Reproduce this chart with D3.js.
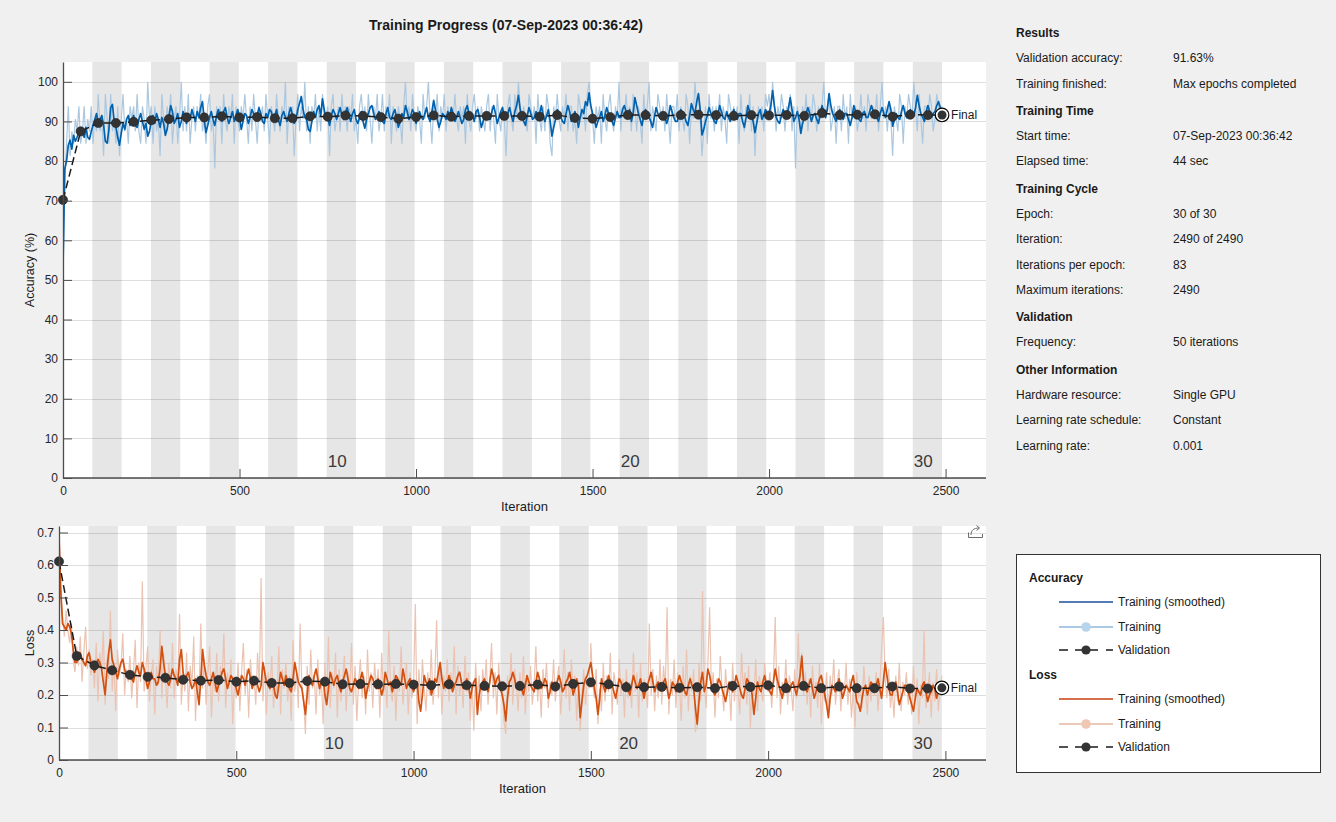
<!DOCTYPE html>
<html>
<head>
<meta charset="utf-8">
<script src="https://cdn.jsdelivr.net/npm/d3@7"></script>
<style>
  body { margin: 0; background: #f0f0f0; }
  svg { display: block; font-family: Arial, "Liberation Sans", Helvetica, sans-serif; }
</style>
</head>
<body>
<svg id="chart" width="1336" height="822"></svg>
<script>
// ---- chart data ----
var maxIter = 2490;
var itersPerEpoch = 83;
var numEpochs = 30;
var epochLabels = [10, 20, 30];
var xTicks = [0, 500, 1000, 1500, 2000, 2500];
var accTicks = [0, 10, 20, 30, 40, 50, 60, 70, 80, 90, 100];
var lossTicks = [0, 0.1, 0.2, 0.3, 0.4, 0.5, 0.6, 0.7];
var lossTickLabels = ["0", "0.1", "0.2", "0.3", "0.4", "0.5", "0.6", "0.7"];

// validation every 50 iterations + final
var valIters = [0, 50, 100, 150, 200, 250, 300, 350, 400, 450,
  500, 550, 600, 650, 700, 750, 800, 850, 900, 950,
  1000, 1050, 1100, 1150, 1200, 1250, 1300, 1350, 1400, 1450,
  1500, 1550, 1600, 1650, 1700, 1750, 1800, 1850, 1900, 1950,
  2000, 2050, 2100, 2150, 2200, 2250, 2300, 2350, 2400, 2450, 2490];
var accValidation = [70.2, 87.5, 89.6, 89.6, 89.9, 90.3, 90.6, 91.0, 91.0, 91.3,
  91.0, 91.1, 90.8, 90.8, 91.3, 91.2, 91.5, 91.4, 91.1, 90.7,
  91.1, 91.5, 91.2, 91.4, 91.4, 91.4, 91.4, 91.2, 91.6, 90.9,
  90.7, 91.1, 91.6, 91.6, 91.4, 91.6, 91.7, 91.6, 91.4, 91.6,
  91.5, 91.6, 91.4, 92.1, 91.6, 91.7, 91.8, 91.2, 91.7, 91.6, 91.63];
var lossValidation = [0.611, 0.320, 0.291, 0.276, 0.262, 0.256, 0.253, 0.247, 0.244, 0.246,
  0.241, 0.244, 0.237, 0.237, 0.243, 0.241, 0.233, 0.234, 0.233, 0.234,
  0.232, 0.230, 0.233, 0.230, 0.228, 0.227, 0.228, 0.232, 0.226, 0.234,
  0.239, 0.233, 0.224, 0.224, 0.225, 0.222, 0.224, 0.221, 0.228, 0.225,
  0.230, 0.221, 0.228, 0.221, 0.226, 0.221, 0.221, 0.226, 0.220, 0.220, 0.222];

// training curves, one value every 5 iterations (rows = 100 iterations)
var step = 5;
var accTrainSmoothed = [
  53, 78, 80, 84, 85.3, 83, 86.5, 85, 86, 87.5, 88.2, 87, 86, 88.5, 86, 85.5, 87.5, 89, 90.5, 92,
  89.6, 90.5, 91.5, 89, 85, 84.5, 88, 93.5, 94.3, 90, 88.5, 86, 84, 87, 89.5, 88, 90.5, 91.5, 89, 90,
  91.5, 89, 88.5, 90.5, 92, 90, 88, 89.5, 86.3, 87.5, 90, 91.5, 89.5, 92, 90.5, 88.5, 91, 89.5, 86.5, 88,
  91, 94, 92.5, 89.5, 90.5, 92, 88.5, 90, 92.5, 91, 89.5, 92, 90.5, 93, 91.5, 90, 92.5, 91, 93.5, 95,
  90.5, 87.2, 89, 91, 92.5, 90.5, 89, 91.5, 93, 91, 90, 92.5, 93.5, 91, 89.5, 91, 92.5, 90, 91.5, 93,
  91, 88, 90, 92, 91.5, 89.5, 91, 93, 92, 90.5, 91.5, 93.5, 92, 90, 89.5, 92, 91, 93, 92.5, 90.5,
  91.5, 93, 90.5, 89, 91.5, 92.5, 91, 90, 92, 93.5, 91.5, 89.5, 90.5, 93, 94.5, 96.3, 93, 91, 90.5, 88,
  87.5, 90, 92.5, 91, 93, 94, 91.5, 95.7, 93, 90.5, 91, 89, 91.5, 93, 92, 90.5, 92, 93.5, 91.5, 90.5,
  92, 93.5, 91.5, 90, 92, 93, 90.5, 89.5, 91, 92.5, 90, 88.3, 90.5, 92, 93.5, 94, 92, 90.5, 91.5, 92.5,
  91, 90, 89.5, 92, 93.5, 91, 90.5, 92, 93, 91, 88.5, 90, 92, 91, 94, 92.5, 90.5, 91.5, 93, 92,
  89.5, 91, 92.5, 91, 90.5, 92, 93.5, 91, 90, 92.5, 95.3, 93, 90.5, 88.5, 90, 92, 91.5, 90.5, 92.5, 91,
  93.5, 92, 90, 91, 92.5, 91, 89.5, 90.5, 93, 94, 92, 90.5, 91.5, 90, 92.5, 93, 91, 88.5, 90, 91.5,
  92, 91, 90.5, 92.5, 94, 92, 89.5, 91, 92.5, 93.5, 91, 90.5, 92, 93.5, 91.5, 90, 92.5, 94, 96.6, 93,
  91, 90, 89, 91.5, 93.5, 92, 90.5, 91, 92.5, 90.5, 92, 94, 91.5, 90, 91.5, 93, 90, 86.3, 88.5, 90.5,
  93, 92, 91, 90, 89.5, 92, 94, 92.5, 90, 91, 92.5, 91, 88.5, 91, 93, 92, 95, 94, 97.2, 94,
  92, 90.5, 88.5, 90, 91, 92.5, 90, 91.5, 93.5, 92, 91, 90, 89, 91, 92.5, 91, 91, 93, 94, 92.5,
  91.5, 93, 90, 92, 96, 94, 92, 90.5, 89, 91.5, 93, 92, 91, 90, 88.5, 91, 93.5, 92, 91, 90.5,
  92, 91, 89.5, 91, 94, 92.5, 91, 90, 90, 92, 93, 91.5, 91.5, 90, 89, 91.5, 94.5, 93, 92, 95,
  97, 93, 86.6, 88, 90, 91.5, 93.5, 92, 91, 90, 89.5, 91.5, 94, 92.5, 91, 90.5, 92.5, 91, 90, 91.5,
  93, 91.5, 90.5, 92, 92, 90, 88.5, 91, 94, 92.5, 91.5, 90, 87.2, 89.5, 92, 93, 90.5, 91.5, 93, 92,
  92, 94, 97.8, 94, 91, 90, 89.5, 91.5, 93, 92, 91, 93.5, 96, 93, 90, 91, 92.5, 90.5, 87, 89.5,
  91, 92, 93.5, 92, 90, 91.5, 92, 90.5, 89.5, 92, 94, 92.5, 91, 93, 97, 94, 92, 91, 90, 92,
  93, 91.5, 90.5, 92, 92, 90.5, 89, 91, 94, 92.5, 91.5, 90.5, 90, 92, 92.5, 91, 91, 92.5, 94, 92.5,
  92, 91, 90, 92, 93.5, 92, 91, 93, 95, 93, 88.8, 90.5, 92, 91, 90.5, 92.5, 94, 92, 91, 92.5,
  93, 92, 91.5, 93.5, 96.6, 94, 92, 91, 90, 92.5, 94, 92.5, 91, 92, 92.5, 94, 95, 93.5, 93];
var lossTrainSmoothed = [
  0.69, 0.52, 0.42, 0.41, 0.40, 0.42, 0.41, 0.39, 0.34, 0.30, 0.30, 0.32, 0.33, 0.31, 0.30, 0.29, 0.32, 0.33, 0.30, 0.29,
  0.27, 0.29, 0.31, 0.30, 0.28, 0.24, 0.20, 0.27, 0.33, 0.37, 0.31, 0.29, 0.27, 0.25, 0.28, 0.30, 0.31, 0.28, 0.26, 0.27,
  0.27, 0.25, 0.24, 0.27, 0.29, 0.27, 0.26, 0.30, 0.28, 0.25, 0.22, 0.24, 0.27, 0.25, 0.25, 0.23, 0.24, 0.28, 0.35, 0.30,
  0.26, 0.24, 0.23, 0.25, 0.28, 0.26, 0.25, 0.23, 0.31, 0.34, 0.27, 0.24, 0.26, 0.27, 0.24, 0.22, 0.23, 0.25, 0.21, 0.17,
  0.25, 0.34, 0.29, 0.26, 0.24, 0.23, 0.25, 0.27, 0.24, 0.21, 0.23, 0.25, 0.27, 0.28, 0.25, 0.22, 0.24, 0.26, 0.25, 0.24,
  0.22, 0.20, 0.23, 0.26, 0.25, 0.23, 0.26, 0.28, 0.25, 0.22, 0.24, 0.25, 0.23, 0.21, 0.23, 0.30, 0.27, 0.24, 0.23, 0.22,
  0.25, 0.23, 0.20, 0.19, 0.23, 0.27, 0.25, 0.23, 0.26, 0.24, 0.22, 0.21, 0.25, 0.30, 0.27, 0.24, 0.23, 0.22, 0.18, 0.14,
  0.20, 0.26, 0.24, 0.23, 0.26, 0.28, 0.25, 0.22, 0.24, 0.25, 0.20, 0.17, 0.22, 0.27, 0.25, 0.23, 0.25, 0.26, 0.23, 0.21,
  0.24, 0.26, 0.28, 0.25, 0.22, 0.21, 0.23, 0.25, 0.24, 0.22, 0.25, 0.27, 0.24, 0.19, 0.22, 0.24, 0.26, 0.25, 0.23, 0.22,
  0.25, 0.23, 0.20, 0.22, 0.27, 0.25, 0.23, 0.24, 0.21, 0.23, 0.26, 0.25, 0.24, 0.23, 0.28, 0.25, 0.22, 0.24, 0.25, 0.23,
  0.21, 0.23, 0.24, 0.18, 0.15, 0.20, 0.26, 0.24, 0.23, 0.25, 0.20, 0.22, 0.25, 0.24, 0.27, 0.30, 0.25, 0.22, 0.24, 0.23,
  0.26, 0.24, 0.21, 0.23, 0.24, 0.26, 0.27, 0.24, 0.22, 0.23, 0.25, 0.23, 0.19, 0.22, 0.24, 0.25, 0.14, 0.20, 0.23, 0.24,
  0.25, 0.23, 0.21, 0.24, 0.28, 0.26, 0.23, 0.25, 0.26, 0.22, 0.20, 0.17, 0.12, 0.19, 0.24, 0.25, 0.27, 0.25, 0.22, 0.23,
  0.24, 0.22, 0.20, 0.23, 0.26, 0.24, 0.23, 0.22, 0.21, 0.24, 0.27, 0.25, 0.22, 0.23, 0.25, 0.24, 0.19, 0.21, 0.24, 0.23,
  0.22, 0.24, 0.26, 0.24, 0.21, 0.22, 0.24, 0.25, 0.27, 0.24, 0.20, 0.22, 0.25, 0.23, 0.13, 0.18, 0.23, 0.25, 0.26, 0.28,
  0.30, 0.26, 0.22, 0.19, 0.14, 0.19, 0.25, 0.23, 0.21, 0.23, 0.26, 0.24, 0.23, 0.21, 0.19, 0.22, 0.25, 0.24, 0.22, 0.23,
  0.24, 0.22, 0.20, 0.23, 0.26, 0.24, 0.22, 0.23, 0.25, 0.22, 0.19, 0.22, 0.23, 0.25, 0.27, 0.24, 0.21, 0.23, 0.24, 0.22,
  0.22, 0.24, 0.25, 0.22, 0.19, 0.21, 0.24, 0.23, 0.21, 0.24, 0.26, 0.24, 0.23, 0.21, 0.20, 0.23, 0.25, 0.23, 0.22, 0.16,
  0.11, 0.18, 0.24, 0.27, 0.21, 0.23, 0.28, 0.26, 0.23, 0.21, 0.20, 0.22, 0.25, 0.24, 0.22, 0.20, 0.18, 0.21, 0.24, 0.23,
  0.21, 0.23, 0.26, 0.24, 0.22, 0.20, 0.19, 0.22, 0.25, 0.24, 0.23, 0.20, 0.14, 0.19, 0.24, 0.22, 0.21, 0.24, 0.26, 0.23,
  0.22, 0.21, 0.20, 0.24, 0.28, 0.25, 0.23, 0.21, 0.19, 0.22, 0.25, 0.23, 0.21, 0.23, 0.24, 0.22, 0.20, 0.23, 0.26, 0.32,
  0.24, 0.22, 0.21, 0.23, 0.25, 0.22, 0.19, 0.21, 0.23, 0.25, 0.26, 0.23, 0.20, 0.17, 0.13, 0.19, 0.23, 0.22, 0.21, 0.23,
  0.25, 0.22, 0.19, 0.21, 0.23, 0.22, 0.21, 0.24, 0.26, 0.22, 0.18, 0.17, 0.15, 0.19, 0.22, 0.23, 0.20, 0.22, 0.24, 0.23,
  0.21, 0.23, 0.25, 0.22, 0.19, 0.24, 0.30, 0.26, 0.22, 0.20, 0.20, 0.23, 0.24, 0.21, 0.17, 0.19, 0.21, 0.23, 0.23, 0.21,
  0.19, 0.17, 0.15, 0.19, 0.22, 0.21, 0.20, 0.23, 0.24, 0.21, 0.18, 0.20, 0.21, 0.23, 0.22, 0.19, 0.21, 0.23, 0.22];

// raw mini-batch values
var accTrain = [
  53.1, 75, 84.4, 93.8, 81.3, 87.5, 84.4, 90.6, 87.5, 93.8, 84.4, 87.5, 93.8, 84.4, 90.6, 87.5, 93.8, 84.4, 90.6, 87.5,
  96.9, 87.5, 90.6, 81.3, 96.9, 90.6, 84.4, 96.9, 87.5, 90.6, 84.4, 93.8, 81.3, 90.6, 96.9, 87.5, 90.6, 84.4, 93.8, 90.6,
  93.8, 87.5, 96.9, 87.5, 84.4, 93.8, 90.6, 84.4, 100, 90.6, 93.8, 84.4, 93.8, 87.5, 90.6, 81.3, 96.9, 90.6, 87.5, 93.8,
  90.6, 96.9, 84.4, 90.6, 93.8, 84.4, 90.6, 100, 87.5, 93.8, 87.5, 96.9, 84.4, 90.6, 93.8, 87.5, 93.8, 90.6, 96.9, 87.5,
  90.6, 84.4, 93.8, 96.9, 87.5, 90.6, 78.1, 93.8, 90.6, 93.8, 84.4, 96.9, 90.6, 87.5, 93.8, 90.6, 96.9, 84.4, 93.8, 90.6,
  87.5, 93.8, 90.6, 96.9, 90.6, 84.4, 93.8, 87.5, 96.9, 90.6, 84.4, 93.8, 90.6, 93.8, 87.5, 96.9, 90.6, 84.4, 93.8, 90.6,
  87.5, 96.9, 90.6, 87.5, 93.8, 90.6, 100, 84.4, 93.8, 90.6, 93.8, 81.3, 90.6, 96.9, 87.5, 93.8, 90.6, 100, 87.5, 93.8,
  84.4, 93.8, 90.6, 96.9, 87.5, 93.8, 87.5, 96.9, 90.6, 90.6, 93.8, 81.3, 93.8, 96.9, 87.5, 90.6, 93.8, 87.5, 96.9, 90.6,
  93.8, 87.5, 93.8, 90.6, 96.9, 87.5, 90.6, 84.4, 93.8, 96.9, 90.6, 93.8, 87.5, 96.9, 90.6, 84.4, 93.8, 90.6, 96.9, 87.5,
  90.6, 96.9, 87.5, 93.8, 90.6, 96.9, 84.4, 93.8, 90.6, 87.5, 93.8, 90.6, 84.4, 93.8, 100, 90.6, 93.8, 87.5, 96.9, 90.6,
  87.5, 93.8, 90.6, 84.4, 96.9, 90.6, 93.8, 100, 90.6, 84.4, 93.8, 90.6, 96.9, 87.5, 93.8, 90.6, 96.9, 87.5, 93.8, 90.6,
  93.8, 90.6, 96.9, 90.6, 87.5, 93.8, 90.6, 93.8, 84.4, 96.9, 90.6, 87.5, 93.8, 96.9, 90.6, 93.8, 87.5, 93.8, 90.6, 87.5,
  93.8, 96.9, 87.5, 93.8, 90.6, 84.4, 96.9, 90.6, 87.5, 93.8, 90.6, 81.3, 93.8, 96.9, 90.6, 87.5, 96.9, 90.6, 100, 93.8,
  90.6, 93.8, 90.6, 87.5, 96.9, 93.8, 90.6, 93.8, 84.4, 96.9, 90.6, 87.5, 93.8, 87.5, 96.9, 93.8, 84.4, 81.3, 93.8, 90.6,
  96.9, 90.6, 87.5, 93.8, 90.6, 96.9, 87.5, 93.8, 93.8, 87.5, 90.6, 84.4, 96.9, 93.8, 90.6, 93.8, 87.5, 96.9, 100, 93.8,
  90.6, 84.4, 93.8, 90.6, 93.8, 84.4, 96.9, 90.6, 87.5, 93.8, 96.9, 90.6, 87.5, 93.8, 90.6, 100, 87.5, 93.8, 90.6, 96.9,
  90.6, 93.8, 87.5, 96.9, 93.8, 87.5, 93.8, 90.6, 84.4, 96.9, 90.6, 93.8, 100, 87.5, 93.8, 90.6, 87.5, 96.9, 93.8, 90.6,
  93.8, 87.5, 96.9, 90.6, 84.4, 93.8, 93.8, 90.6, 96.9, 87.5, 93.8, 90.6, 87.5, 96.9, 93.8, 84.4, 93.8, 90.6, 100, 93.8,
  96.9, 90.6, 81.3, 87.5, 93.8, 84.4, 96.9, 90.6, 93.8, 87.5, 93.8, 90.6, 96.9, 87.5, 93.8, 90.6, 84.4, 96.9, 93.8, 90.6,
  93.8, 90.6, 93.8, 84.4, 96.9, 90.6, 87.5, 93.8, 90.6, 96.9, 87.5, 93.8, 81.3, 90.6, 93.8, 90.6, 93.8, 87.5, 96.9, 93.8,
  96.9, 90.6, 100, 93.8, 87.5, 93.8, 90.6, 96.9, 93.8, 87.5, 93.8, 90.6, 96.9, 87.5, 93.8, 78.1, 93.8, 90.6, 87.5, 93.8,
  90.6, 96.9, 87.5, 93.8, 90.6, 96.9, 93.8, 87.5, 93.8, 90.6, 93.8, 100, 90.6, 93.8, 96.9, 87.5, 90.6, 93.8, 84.4, 93.8,
  93.8, 87.5, 96.9, 90.6, 93.8, 84.4, 96.9, 90.6, 93.8, 93.8, 87.5, 90.6, 96.9, 90.6, 93.8, 87.5, 96.9, 93.8, 90.6, 93.8,
  90.6, 96.9, 87.5, 93.8, 100, 90.6, 93.8, 87.5, 93.8, 90.6, 81.3, 93.8, 90.6, 87.5, 96.9, 93.8, 84.4, 93.8, 90.6, 96.9,
  93.8, 90.6, 100, 93.8, 87.5, 96.9, 90.6, 84.4, 93.8, 93.8, 90.6, 96.9, 93.8, 87.5, 90.6, 96.9, 93.8, 90.6, 93.8];
var lossTrain = [
  0.69, 0.52, 0.44, 0.38, 0.46, 0.40, 0.36, 0.42, 0.31, 0.27, 0.35, 0.29, 0.38, 0.24, 0.33, 0.41, 0.28, 0.34, 0.26, 0.31,
  0.22, 0.36, 0.18, 0.33, 0.27, 0.40, 0.17, 0.31, 0.25, 0.46, 0.21, 0.30, 0.15, 0.34, 0.26, 0.29, 0.39, 0.20, 0.28, 0.24,
  0.32, 0.19, 0.27, 0.37, 0.16, 0.30, 0.24, 0.55, 0.21, 0.28, 0.35, 0.18, 0.26, 0.31, 0.14, 0.29, 0.23, 0.40, 0.19, 0.33,
  0.25, 0.16, 0.30, 0.22, 0.36, 0.19, 0.28, 0.24, 0.45, 0.17, 0.27, 0.21, 0.33, 0.15, 0.29, 0.23, 0.38, 0.12, 0.26, 0.20,
  0.42, 0.22, 0.31, 0.17, 0.27, 0.35, 0.13, 0.26, 0.21, 0.33, 0.18, 0.29, 0.24, 0.39, 0.16, 0.27, 0.22, 0.31, 0.11, 0.25,
  0.19, 0.30, 0.15, 0.27, 0.36, 0.20, 0.28, 0.13, 0.31, 0.22, 0.26, 0.17, 0.33, 0.23, 0.56, 0.18, 0.29, 0.14, 0.27, 0.21,
  0.32, 0.16, 0.25, 0.20, 0.35, 0.14, 0.28, 0.22, 0.30, 0.18, 0.26, 0.12, 0.37, 0.21, 0.27, 0.16, 0.42, 0.23, 0.19, 0.08,
  0.29, 0.17, 0.34, 0.22, 0.26, 0.14, 0.31, 0.20, 0.25, 0.11, 0.30, 0.19, 0.38, 0.16, 0.27, 0.22, 0.33, 0.13, 0.28, 0.18,
  0.25, 0.32, 0.15, 0.27, 0.20, 0.36, 0.17, 0.29, 0.12, 0.24, 0.31, 0.19, 0.26, 0.14, 0.34, 0.21, 0.27, 0.16, 0.30, 0.22,
  0.28, 0.13, 0.33, 0.20, 0.25, 0.16, 0.40, 0.22, 0.18, 0.29, 0.12, 0.26, 0.21, 0.35, 0.17, 0.24, 0.30, 0.14, 0.27, 0.19,
  0.23, 0.48, 0.11, 0.28, 0.18, 0.31, 0.22, 0.15, 0.27, 0.20, 0.34, 0.17, 0.25, 0.43, 0.19, 0.29, 0.14, 0.26, 0.21, 0.31,
  0.18, 0.27, 0.22, 0.35, 0.14, 0.29, 0.20, 0.25, 0.16, 0.32, 0.21, 0.27, 0.12, 0.24, 0.09, 0.30, 0.19, 0.26, 0.15, 0.28,
  0.22, 0.31, 0.17, 0.25, 0.36, 0.19, 0.27, 0.14, 0.30, 0.21, 0.24, 0.12, 0.08, 0.26, 0.20, 0.33, 0.17, 0.28, 0.23, 0.15,
  0.27, 0.19, 0.32, 0.14, 0.25, 0.21, 0.29, 0.17, 0.23, 0.35, 0.18, 0.26, 0.13, 0.28, 0.22, 0.30, 0.16, 0.24, 0.20, 0.31,
  0.18, 0.25, 0.29, 0.14, 0.23, 0.34, 0.19, 0.27, 0.15, 0.31, 0.21, 0.26, 0.12, 0.24, 0.09, 0.20, 0.28, 0.17, 0.25, 0.22,
  0.36, 0.24, 0.19, 0.28, 0.11, 0.22, 0.15, 0.30, 0.18, 0.26, 0.21, 0.33, 0.14, 0.27, 0.23, 0.17, 0.31, 0.20, 0.25, 0.13,
  0.28, 0.19, 0.24, 0.16, 0.33, 0.21, 0.27, 0.13, 0.30, 0.18, 0.25, 0.22, 0.16, 0.42, 0.20, 0.28, 0.15, 0.26, 0.19, 0.31,
  0.17, 0.29, 0.22, 0.47, 0.14, 0.25, 0.20, 0.31, 0.16, 0.27, 0.23, 0.12, 0.29, 0.19, 0.34, 0.15, 0.26, 0.21, 0.28, 0.09,
  0.10, 0.30, 0.18, 0.52, 0.24, 0.16, 0.29, 0.47, 0.21, 0.27, 0.13, 0.25, 0.19, 0.32, 0.22, 0.15, 0.28, 0.20, 0.24, 0.12,
  0.30, 0.18, 0.26, 0.21, 0.14, 0.33, 0.22, 0.27, 0.17, 0.29, 0.10, 0.24, 0.20, 0.31, 0.15, 0.26, 0.22, 0.18, 0.30, 0.23,
  0.21, 0.27, 0.16, 0.25, 0.44, 0.19, 0.29, 0.14, 0.24, 0.20, 0.31, 0.17, 0.26, 0.22, 0.15, 0.28, 0.19, 0.39, 0.23, 0.33,
  0.20, 0.27, 0.17, 0.25, 0.13, 0.29, 0.21, 0.24, 0.16, 0.30, 0.11, 0.22, 0.18, 0.27, 0.14, 0.26, 0.20, 0.31, 0.17, 0.24,
  0.28, 0.15, 0.24, 0.20, 0.30, 0.17, 0.25, 0.13, 0.22, 0.10, 0.27, 0.19, 0.23, 0.16, 0.29, 0.21, 0.14, 0.26, 0.18, 0.24,
  0.20, 0.27, 0.15, 0.23, 0.34, 0.44, 0.25, 0.19, 0.28, 0.16, 0.22, 0.13, 0.26, 0.18, 0.30, 0.15, 0.24, 0.20, 0.27, 0.17,
  0.22, 0.14, 0.29, 0.18, 0.25, 0.11, 0.23, 0.19, 0.40, 0.16, 0.21, 0.27, 0.13, 0.24, 0.18, 0.28, 0.15, 0.22, 0.26];

// info panel
var infoSections = [
  { title: "Results", rows: [["Validation accuracy:", "91.63%"], ["Training finished:", "Max epochs completed"]] },
  { title: "Training Time", rows: [["Start time:", "07-Sep-2023 00:36:42"], ["Elapsed time:", "44 sec"]] },
  { title: "Training Cycle", rows: [["Epoch:", "30 of 30"], ["Iteration:", "2490 of 2490"], ["Iterations per epoch:", "83"], ["Maximum iterations:", "2490"]] },
  { title: "Validation", rows: [["Frequency:", "50 iterations"]] },
  { title: "Other Information", rows: [["Hardware resource:", "Single GPU"], ["Learning rate schedule:", "Constant"], ["Learning rate:", "0.001"]] }
];
var infoRowY = [33, 58, 84, 111, 136, 161, 189, 214, 239, 265, 290, 317, 342, 370, 395, 420, 446];

// ---- drawing ----
var svg = d3.select("#chart");
var textColor = "#1a1a1a";
var axisColor = "#4d4d4d";
var xMax = maxIter * 1.05;

svg.append("text")
  .attr("x", 506).attr("y", 30)
  .attr("text-anchor", "middle")
  .attr("font-size", "14px").attr("font-weight", "bold")
  .attr("fill", textColor)
  .text("Training Progress (07-Sep-2023 00:36:42)");

function drawPanel(cfg) {
  var g = svg.append("g");
  var x = d3.scaleLinear().domain([0, xMax]).range([cfg.left, cfg.right]);
  var y = d3.scaleLinear().domain(cfg.yDomain).range([cfg.bottom, cfg.top]);

  var clipId = "clip-" + cfg.name;
  svg.append("clipPath").attr("id", clipId)
    .append("rect")
    .attr("x", cfg.left).attr("y", cfg.top)
    .attr("width", cfg.right - cfg.left).attr("height", cfg.bottom - cfg.top);

  // plot background
  g.append("rect")
    .attr("x", cfg.left).attr("y", cfg.top)
    .attr("width", cfg.right - cfg.left).attr("height", cfg.bottom - cfg.top)
    .attr("fill", "#ffffff");

  // shaded even epochs
  var evenEpochs = d3.range(2, numEpochs + 1, 2);
  g.selectAll("rect.band")
    .data(evenEpochs)
    .enter()
    .append("rect")
    .attr("class", "band")
    .attr("x", function(e) { return x((e - 1) * itersPerEpoch); })
    .attr("width", function(e) { return x(e * itersPerEpoch) - x((e - 1) * itersPerEpoch); })
    .attr("y", cfg.top)
    .attr("height", cfg.bottom - cfg.top)
    .attr("fill", "#e6e6e6");

  // horizontal grid
  g.selectAll("line.grid")
    .data(cfg.yTicks)
    .enter()
    .append("line")
    .attr("class", "grid")
    .attr("x1", cfg.left).attr("x2", cfg.right)
    .attr("y1", function(d) { return Math.round(y(d)) + 0.5; })
    .attr("y2", function(d) { return Math.round(y(d)) + 0.5; })
    .attr("stroke", "#000").attr("stroke-opacity", 0.13);

  // epoch numbers
  g.selectAll("text.epoch")
    .data(epochLabels)
    .enter()
    .append("text")
    .attr("class", "epoch")
    .attr("x", function(e) { return x((e - 1) * itersPerEpoch) + 1; })
    .attr("y", cfg.bottom - 11)
    .attr("font-size", "17px")
    .attr("fill", "#3a3a3a")
    .text(function(e) { return e; });

  var data = g.append("g").attr("clip-path", "url(#" + clipId + ")");

  var trainLine = d3.line()
    .x(function(d, i) { return x(Math.min(i * step, maxIter)); })
    .y(function(d) { return y(d); });
  data.append("path")
    .datum(cfg.raw)
    .attr("d", trainLine)
    .attr("fill", "none")
    .attr("stroke", cfg.rawColor)
    .attr("stroke-width", 1.2);
  data.append("path")
    .datum(cfg.smooth)
    .attr("d", trainLine)
    .attr("fill", "none")
    .attr("stroke", cfg.smoothColor)
    .attr("stroke-width", 1.7)
    .attr("stroke-linejoin", "round");

  // validation
  var valLine = d3.line()
    .x(function(d, i) { return x(valIters[i]); })
    .y(function(d) { return y(d); });
  data.append("path")
    .datum(cfg.val)
    .attr("d", valLine)
    .attr("fill", "none")
    .attr("stroke", "#1a1a1a")
    .attr("stroke-width", 1.5)
    .attr("stroke-dasharray", "8,4");

  g.selectAll("circle.val")
    .data(cfg.val)
    .enter()
    .append("circle")
    .attr("class", "val")
    .attr("cx", function(d, i) { return x(valIters[i]); })
    .attr("cy", function(d) { return y(d); })
    .attr("r", 4.6)
    .attr("fill", "#333333")
    .attr("stroke", "#222222")
    .attr("stroke-width", 0.6);

  // final marker
  var last = cfg.val.length - 1;
  var fx = x(valIters[last]), fy = y(cfg.val[last]);
  g.append("circle")
    .attr("cx", fx).attr("cy", fy).attr("r", 6.8)
    .attr("fill", "#ffffff").attr("stroke", "#000").attr("stroke-width", 1.2);
  g.append("circle")
    .attr("cx", fx).attr("cy", fy).attr("r", 4.5)
    .attr("fill", "#333333");
  g.append("text")
    .attr("x", fx + 9).attr("y", fy + 4)
    .attr("font-size", "12px").attr("fill", textColor)
    .text("Final");

  // axes
  var xAxis = d3.axisBottom(x).tickValues(xTicks).tickSizeInner(-9).tickSizeOuter(0).tickPadding(8)
    .tickFormat(d3.format("d"));
  var gx = g.append("g")
    .attr("transform", "translate(0," + cfg.bottom + ")")
    .call(xAxis);
  var yAxis = d3.axisLeft(y).tickValues(cfg.yTicks).tickSizeInner(-9).tickSizeOuter(0).tickPadding(5)
    .tickFormat(function(d, i) { return cfg.yLabels ? cfg.yLabels[i] : d; });
  var gy = g.append("g")
    .attr("transform", "translate(" + cfg.left + ",0)")
    .call(yAxis);
  [gx, gy].forEach(function(a) {
    a.select(".domain").attr("stroke", axisColor).attr("stroke-width", 1.3);
    a.selectAll(".tick line").attr("stroke", axisColor);
    a.selectAll(".tick text").attr("fill", "#262626").attr("font-size", "12px")
      .attr("font-family", "Arial, 'Liberation Sans', Helvetica, sans-serif");
  });
  gx.select(".domain").attr("d", "M" + cfg.left + ",0H" + cfg.right);

  g.append("text")
    .attr("x", (cfg.left + cfg.right) / 2).attr("y", cfg.bottom + 33)
    .attr("text-anchor", "middle")
    .attr("font-size", "13px").attr("fill", textColor)
    .text("Iteration");
  g.append("text")
    .attr("transform", "translate(34," + ((cfg.top + cfg.bottom) / 2) + ") rotate(-90)")
    .attr("text-anchor", "middle")
    .attr("font-size", "12.5px").attr("fill", textColor)
    .text(cfg.yTitle);
}

drawPanel({
  name: "acc", left: 63, right: 986, top: 62, bottom: 478,
  yDomain: [0, 105], yTicks: accTicks, yTitle: "Accuracy (%)",
  raw: accTrain, smooth: accTrainSmoothed, val: accValidation,
  rawColor: "#abc8e0", smoothColor: "#0061ae"
});
drawPanel({
  name: "loss", left: 59, right: 986, top: 526, bottom: 760,
  yDomain: [0, 0.72], yTicks: lossTicks, yLabels: lossTickLabels, yTitle: "Loss",
  raw: lossTrain, smooth: lossTrainSmoothed, val: lossValidation,
  rawColor: "#ebc3b2", smoothColor: "#d3500f"
});

// edit icon on the loss axes toolbar
var icon = svg.append("g").attr("fill", "none").attr("stroke", "#6a6a6a").attr("stroke-width", 1);
icon.append("path").attr("d", "M968.5,532.5 V537.5 H982.5 V534");
icon.append("path").attr("d", "M971,535 C971,530 974,528 979,528");
icon.append("path").attr("d", "M976.5,525.5 L979.5,528 L976.5,530.5");

// info panel
var rowIdx = 0;
infoSections.forEach(function(sec) {
  svg.append("text")
    .attr("x", 1016).attr("y", infoRowY[rowIdx++] + 4)
    .attr("font-size", "12px").attr("font-weight", "bold").attr("fill", textColor)
    .text(sec.title);
  sec.rows.forEach(function(r) {
    var yy = infoRowY[rowIdx++] + 4;
    svg.append("text").attr("x", 1016).attr("y", yy)
      .attr("font-size", "12px").attr("fill", textColor).text(r[0]);
    svg.append("text").attr("x", 1173).attr("y", yy)
      .attr("font-size", "12px").attr("fill", textColor).text(r[1]);
  });
});

// legend
var legend = svg.append("g");
legend.append("rect")
  .attr("x", 1016.5).attr("y", 554.5).attr("width", 304).attr("height", 218)
  .attr("fill", "#ffffff").attr("stroke", "#333333").attr("stroke-width", 1);

var legendGroups = [
  { title: "Accuracy", y: 578, smooth: "#1a4f9c", raw: "#8fb7d8", rawMarker: "#b8d4ea" },
  { title: "Loss", y: 675, smooth: "#c8410f", raw: "#e7b7a3", rawMarker: "#f0c6b4" }
];
var legendRowOffsets = [24, 49, 72];
var legendLabels = ["Training (smoothed)", "Training", "Validation"];
legendGroups.forEach(function(grp) {
  legend.append("text")
    .attr("x", 1029).attr("y", grp.y + 4)
    .attr("font-size", "12px").attr("font-weight", "bold").attr("fill", textColor)
    .text(grp.title);
  var y0 = grp.y + legendRowOffsets[0], y1 = grp.y + legendRowOffsets[1], y2 = grp.y + legendRowOffsets[2];
  legend.append("line").attr("x1", 1059).attr("x2", 1113).attr("y1", y0).attr("y2", y0)
    .attr("stroke", grp.smooth).attr("stroke-width", 1.6);
  legend.append("line").attr("x1", 1059).attr("x2", 1113).attr("y1", y1).attr("y2", y1)
    .attr("stroke", grp.raw).attr("stroke-width", 1.6);
  legend.append("circle").attr("cx", 1086).attr("cy", y1).attr("r", 4.8).attr("fill", grp.rawMarker);
  legend.append("line").attr("x1", 1059).attr("x2", 1113).attr("y1", y2).attr("y2", y2)
    .attr("stroke", "#1a1a1a").attr("stroke-width", 1.5).attr("stroke-dasharray", "9,7,23,8,9");
  legend.append("circle").attr("cx", 1086).attr("cy", y2).attr("r", 4.6).attr("fill", "#333333");
  [y0, y1, y2].forEach(function(yy, i) {
    legend.append("text").attr("x", 1118).attr("y", yy + 4)
      .attr("font-size", "12px").attr("fill", textColor).text(legendLabels[i]);
  });
});
</script>
</body>
</html>
